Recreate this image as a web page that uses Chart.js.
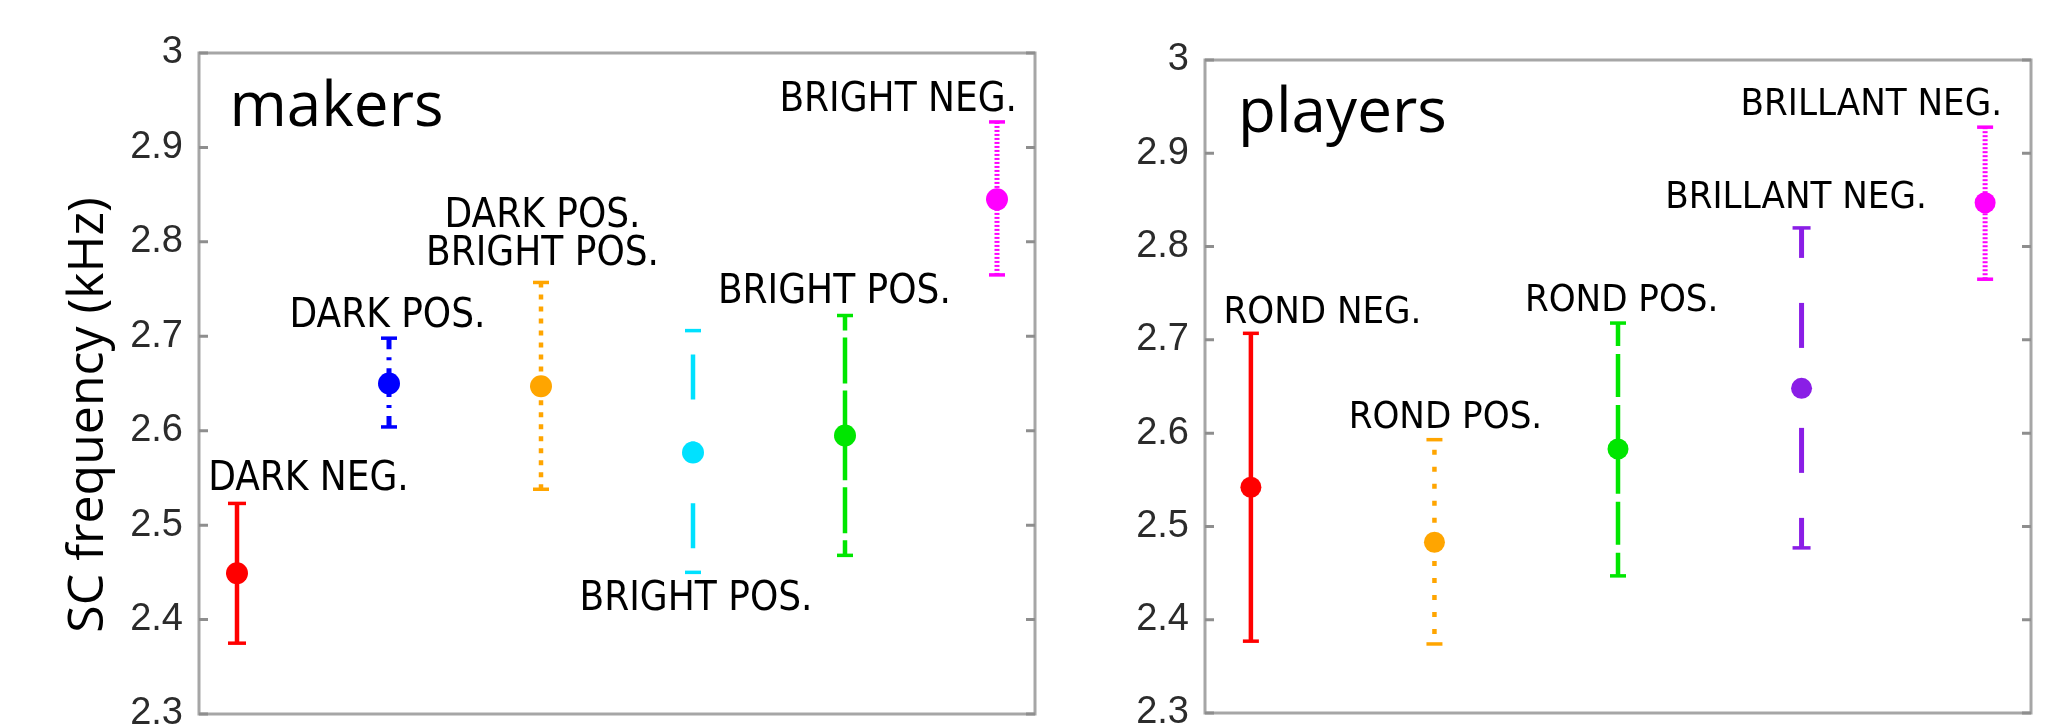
<!DOCTYPE html>
<html>
<head>
<meta charset="utf-8">
<script src="https://cdn.jsdelivr.net/npm/chart.js@4.4.1/dist/chart.umd.min.js"></script>
<style>
    html, body { margin: 0; padding: 0; background: #fff; overflow: hidden; width: 2063px; height: 728px; }
    #makersChart { position: absolute; left: 0; top: 0; }
    #playersChart { position: absolute; left: 1060px; top: 0; }
</style>
</head>
<body>
<canvas id="makersChart" width="1060" height="770"></canvas>
<canvas id="playersChart" width="1003" height="770"></canvas>
<script>
// y axis ticks shared by both panels (kHz)
const yTicks = [2.3, 2.4, 2.5, 2.6, 2.7, 2.8, 2.9, 3];

// makers panel: mean and error bar ends
const makersMean = [2.449, 2.650, 2.647, 2.577, 2.595, 2.845];
const makersLow  = [2.375, 2.604, 2.538, 2.450, 2.468, 2.765];
const makersHigh = [2.523, 2.698, 2.757, 2.706, 2.722, 2.927];
const makersText = [['DARK NEG.'], ['DARK POS.'], ['DARK POS.', 'BRIGHT POS.'], ['BRIGHT POS.'], ['BRIGHT POS.'], ['BRIGHT NEG.']];

// players panel
const playersMean = [2.542, 2.483, 2.583, 2.648, 2.847];
const playersLow  = [2.377, 2.374, 2.447, 2.477, 2.765];
const playersHigh = [2.707, 2.593, 2.718, 2.820, 2.928];
const playersText = [['ROND NEG.'], ['ROND POS.'], ['ROND POS.'], ['BRILLANT NEG.'], ['BRILLANT NEG.']];

// label anchors in axis units (x centre, y baseline of first line)
const makersLabelAt = [[1.47, 2.537], [1.99, 2.710], [3.01, 2.816], [4.02, 2.410], [4.93, 2.735], [5.35, 2.939]];
const playersLabelAt = [[1.39, 2.718], [2.06, 2.605], [3.02, 2.731], [3.97, 2.841], [4.38, 2.941]];

// bar styles
const makersStyle = [
    { color: '#ff0000', width: 4.5, dash: [], offset: 0, cap: 9 },
    { color: '#0000ff', width: 5, dash: [11, 8, 3, 8], offset: 0, cap: 8 },
    { color: '#ffa500', width: 4.5, dash: [5, 7], offset: 0, cap: 8 },
    { color: '#00e1ff', width: 4.5, dash: [45, 42], offset: 63, cap: 8 },
    { color: '#00e600', width: 4.5, dash: [46, 7], offset: 31, cap: 8 },
    { color: '#ff00ff', width: 5, dash: [2, 2], offset: 0, cap: 8 }
];
const playersStyle = [
    { color: '#ff0000', width: 4.5, dash: [], offset: 0, cap: 8 },
    { color: '#ffa500', width: 4.5, dash: [5, 12], offset: 7, cap: 8 },
    { color: '#00e600', width: 4.5, dash: [43, 8], offset: 20, cap: 8 },
    { color: '#8a1ee6', width: 5, dash: [45, 45], offset: 15, cap: 9 },
    { color: '#ff00ff', width: 5, dash: [2, 2], offset: 0, cap: 8 }
];

// frame, inner ticks, error bars and text labels
function makePanelPlugin(p) {
    return {
        id: 'panel_' + p.name,
        beforeDatasetsDraw(chart) {
            const { ctx, chartArea: a, scales: { x, y } } = chart;
            ctx.save();
            ctx.strokeStyle = '#a6a6a6';
            ctx.lineWidth = 3;
            ctx.strokeRect(a.left, a.top, a.right - a.left, a.bottom - a.top);
            ctx.strokeStyle = '#8e8e8e';
            yTicks.forEach(v => {
                const py = y.getPixelForValue(v);
                ctx.beginPath();
                ctx.moveTo(a.left, py); ctx.lineTo(a.left + 9, py);
                ctx.moveTo(a.right, py); ctx.lineTo(a.right - 9, py);
                ctx.stroke();
            });

            p.mean.forEach((m, i) => {
                const st = p.style[i];
                const px = x.getPixelForValue(i + 1);
                const yc = y.getPixelForValue(m);
                const ends = [y.getPixelForValue(p.high[i]), y.getPixelForValue(p.low[i])];
                ctx.strokeStyle = st.color;
                ctx.lineWidth = st.width;
                ctx.lineCap = 'butt';
                ctx.setLineDash(st.dash);
                ctx.lineDashOffset = st.offset;
                // draw each half from its cap towards the mean
                ends.forEach(ye => {
                    ctx.beginPath();
                    ctx.moveTo(px, ye);
                    ctx.lineTo(px, yc);
                    ctx.stroke();
                });
                ctx.setLineDash([]);
                ctx.lineWidth = 3.5;
                ends.forEach(ye => {
                    ctx.beginPath();
                    ctx.moveTo(px - st.cap, ye);
                    ctx.lineTo(px + st.cap, ye);
                    ctx.stroke();
                });
            });
            ctx.restore();
        },
        afterDatasetsDraw(chart) {
            const { ctx, scales: { x, y } } = chart;
            ctx.save();
            ctx.fillStyle = '#000';
            ctx.textAlign = 'center';
            ctx.textBaseline = 'alphabetic';
            ctx.font = p.labelFont;
            p.text.forEach((lines, i) => {
                const lx = x.getPixelForValue(p.labelAt[i][0]);
                const ly = y.getPixelForValue(p.labelAt[i][1]);
                lines.forEach((t, k) => ctx.fillText(t, lx, ly + k * 38));
            });
            // panel name
            ctx.textAlign = 'left';
            ctx.font = '62px "Open Sans", sans-serif';
            ctx.fillText(p.name, x.getPixelForValue(p.nameAt[0]), y.getPixelForValue(p.nameAt[1]));
            // y title (makers panel only)
            if (p.yTitle) {
                ctx.translate(103, 415);
                ctx.rotate(-Math.PI / 2);
                ctx.textAlign = 'center';
                ctx.font = '50px "Open Sans", sans-serif';
                ctx.fillText(p.yTitle, 0, 0);
            }
            ctx.restore();
        }
    };
}

function buildPanel(canvasId, p) {
    const ctx = document.getElementById(canvasId).getContext('2d');
    return new Chart(ctx, {
        type: 'scatter',
        data: {
            datasets: [{
                data: p.mean.map((m, i) => ({ x: i + 1, y: m })),
                pointBackgroundColor: p.style.map(s => s.color),
                pointBorderWidth: 0,
                pointRadius: p.radius,
                showLine: false
            }]
        },
        options: {
            responsive: false,
            devicePixelRatio: 1,
            animation: false,
            layout: { padding: p.padding },
            plugins: { legend: { display: false }, tooltip: { enabled: false } },
            scales: {
                x: { type: 'linear', display: false, min: 0.75, max: p.mean.length + 0.25 },
                y: {
                    min: 2.3, max: 3,
                    afterBuildTicks: s => { s.ticks = yTicks.map(v => ({ value: v })); },
                    afterFit: s => { s.width = p.axisWidth; },
                    grid: { display: false, drawTicks: false },
                    border: { display: false },
                    ticks: {
                        padding: 16,
                        color: '#2b2b2b',
                        font: { family: '"Liberation Sans", Arial, sans-serif', size: 38 },
                        callback: v => String(v)
                    }
                }
            }
        },
        plugins: [makePanelPlugin(p)]
    });
}

buildPanel('makersChart', {
    name: 'makers', nameAt: [0.95, 2.923], yTitle: 'SC frequency (kHz)',
    mean: makersMean, low: makersLow, high: makersHigh,
    text: makersText, labelAt: makersLabelAt, style: makersStyle,
    labelFont: '40px "DejaVu Sans Condensed", "DejaVu Sans", sans-serif',
    radius: 11, axisWidth: 199,
    padding: { left: 0, top: 53, right: 25, bottom: 56 }
});

buildPanel('playersChart', {
    name: 'players', nameAt: [0.93, 2.923], yTitle: null,
    mean: playersMean, low: playersLow, high: playersHigh,
    text: playersText, labelAt: playersLabelAt, style: playersStyle,
    labelFont: '38px "DejaVu Sans Condensed", "DejaVu Sans", sans-serif',
    radius: 10.5, axisWidth: 145,
    padding: { left: 0, top: 60, right: 32, bottom: 57 }
});
</script>
</body>
</html>
